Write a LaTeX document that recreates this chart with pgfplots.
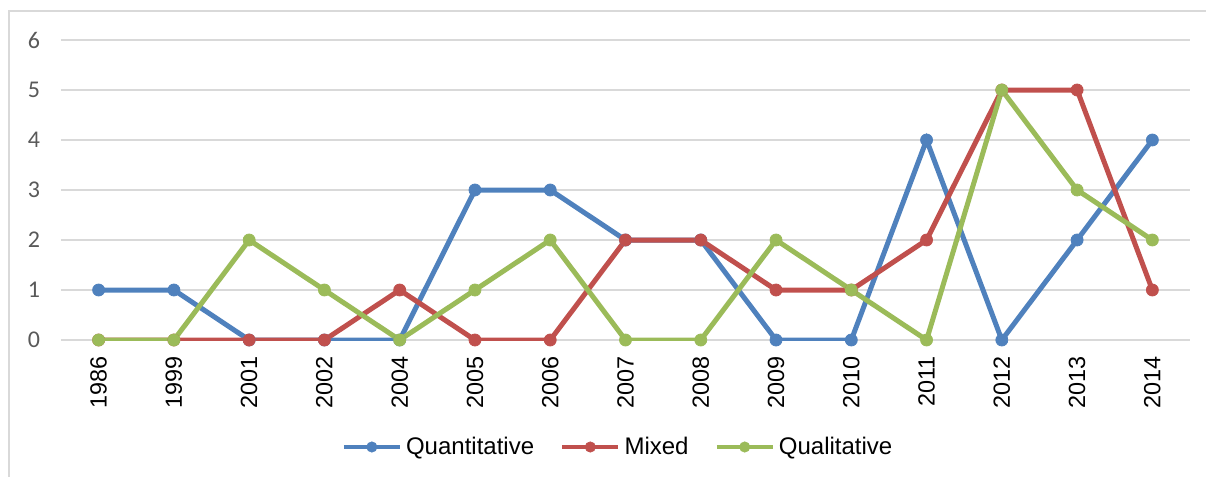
\documentclass[border=0pt]{standalone}
\usepackage{pgfplots}
\pgfplotsset{compat=1.18}
\usepackage{fontspec}
\setmainfont{Liberation Sans}
\newfontfamily\calfont{Carlito}
\definecolor{qblue}{HTML}{4F81BD}
\definecolor{mred}{HTML}{C0504D}
\definecolor{lgreen}{HTML}{9BBB59}
\definecolor{gridgray}{HTML}{D9D9D9}
\definecolor{labgray}{HTML}{595959}
\begin{document}
\begin{tikzpicture}
\begin{axis}[
  scale only axis,
  width=564.5pt, height=150pt,
  xmin=-0.5, xmax=14.5, ymin=0, ymax=6,
  xtick={0,...,14},
  xticklabels={1986,1999,2001,2002,2004,2005,2006,2007,2008,2009,2010,2011,2012,2013,2014},
  ytick={0,1,2,3,4,5,6},
  axis line style={draw=none},
  major tick style={draw=none},
  ymajorgrids,
  grid style={gridgray, line width=0.75pt},
  xticklabel style={rotate=90, anchor=east, font=\fontsize{11.7pt}{13pt}\selectfont, xshift=-4.5pt},
  yticklabel style={font=\calfont\fontsize{12pt}{14pt}\selectfont, text=labgray, xshift=-7pt},
  /pgf/number format/assume math mode=true,
  legend columns=-1,
  legend style={draw=none, at={(279pt,-53.5pt)}, anchor=center, font=\fontsize{12pt}{14pt}\selectfont,
    /tikz/every even column/.append style={column sep=11pt}, inner sep=0pt},
  legend image code/.code={\draw[#1, line width=2.2pt, mark size=2.6pt, mark repeat=2, mark phase=2, mark options={line width=0.3pt}] plot coordinates {(0pt,0pt) (14pt,0pt) (28pt,0pt)};},
  every axis plot/.append style={line width=2.5pt, mark=*, mark size=3pt},
]
\addplot[qblue, mark options={solid, fill=qblue, draw=qblue, line width=0.4pt}] coordinates {
(0,1) (1,1) (2,0) (3,0) (4,0) (5,3) (6,3) (7,2) (8,2) (9,0) (10,0) (11,4) (12,0) (13,2) (14,4)};
\addlegendentry{Quantitative}
\addplot[mred, mark options={solid, fill=mred, draw=mred, line width=0.4pt}] coordinates {
(0,0) (1,0) (2,0) (3,0) (4,1) (5,0) (6,0) (7,2) (8,2) (9,1) (10,1) (11,2) (12,5) (13,5) (14,1)};
\addlegendentry{Mixed}
\addplot[lgreen, mark options={solid, fill=lgreen, draw=lgreen, line width=0.4pt}] coordinates {
(0,0) (1,0) (2,2) (3,1) (4,0) (5,1) (6,2) (7,0) (8,0) (9,2) (10,1) (11,0) (12,5) (13,3) (14,2)};
\addlegendentry{Qualitative}
\end{axis}
\draw[gridgray, line width=0.9pt] (-26pt,-80pt) -- (-26pt,164.5pt) -- (580pt,164.5pt);
\pgfresetboundingbox
\useasboundingbox (-30.5pt,-68.5pt) rectangle (572.5pt,170pt);
\end{tikzpicture}
\end{document}
